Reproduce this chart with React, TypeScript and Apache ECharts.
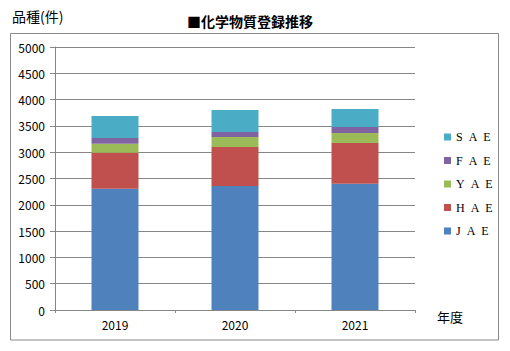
import React, { useEffect, useRef } from "react";
import * as echarts from "echarts";

const years = ["2019", "2020", "2021"];
const seriesNames = ["JAE", "HAE", "YAE", "FAE", "SAE"];
const JAE = [2306, 2357, 2401];
const HAE = [685, 742, 774];
const YAE = [171, 190, 190];
const FAE = [108, 95, 114];
const SAE = [418, 418, 342];
const colors = ["#4F81BD", "#C0504D", "#9BBB59", "#8064A2", "#4BACC6"];
const legendOrder = ["SAE", "FAE", "YAE", "HAE", "JAE"];
const titleText = "■化学物質登録推移";
const yAxisName = "品種(件)";
const xAxisName = "年度";

export default function App() {
  const ref = useRef<HTMLDivElement>(null);
  useEffect(() => {
    if (!ref.current) return;
    const chart = echarts.init(ref.current, undefined, { renderer: "svg" });
    const values = [JAE, HAE, YAE, FAE, SAE];
    const jp = "'Noto Sans CJK JP', sans-serif";
    chart.setOption({
      animation: false,
      backgroundColor: "#fff",
      color: colors,
      graphic: [
        {
          type: "rect",
          shape: { x: 10.5, y: 33.5, width: 488, height: 306.5 },
          style: { fill: "none", stroke: "#8a8a8a", lineWidth: 1 },
          silent: true,
        },
        {
          type: "text",
          x: 250,
          y: 21,
          style: {
            text: titleText,
            fontFamily: jp,
            fontSize: 14,
            fontWeight: "bold",
            fill: "#000",
            align: "center",
            verticalAlign: "middle",
          },
        },
        {
          type: "text",
          x: 12,
          y: 16,
          style: {
            text: yAxisName,
            fontFamily: jp,
            fontSize: 14,
            fill: "#000",
            align: "left",
            verticalAlign: "middle",
          },
        },
        {
          type: "text",
          x: 437,
          y: 316,
          style: {
            text: xAxisName,
            fontFamily: jp,
            fontSize: 13,
            fill: "#000",
            align: "left",
            verticalAlign: "middle",
          },
        },
      ],
      legend: {
        orient: "vertical",
        left: 439,
        top: 126,
        icon: "rect",
        itemWidth: 7,
        itemHeight: 7,
        itemGap: 11.5,
        data: legendOrder,
        formatter: (n: string) => n.split("").join("\u2002"),
        textStyle: {
          fontFamily: "'Liberation Serif', 'DejaVu Serif', serif",
          fontSize: 12,
          lineHeight: 12,
          color: "#000",
        },
      },
      grid: { left: 55, right: 95, top: 47, bottom: 41, containLabel: false },
      xAxis: {
        type: "category",
        data: years,
        boundaryGap: true,
        axisLine: { lineStyle: { color: "#868686" } },
        axisTick: { show: true, alignWithLabel: false, length: 3, lineStyle: { color: "#868686" } },
        axisLabel: { color: "#000", fontFamily: jp, fontSize: 12, margin: 8 },
      },
      yAxis: {
        type: "value",
        min: 0,
        max: 5000,
        interval: 500,
        axisLine: { show: true, lineStyle: { color: "#868686" } },
        axisTick: { show: true, length: 5, lineStyle: { color: "#868686" } },
        axisLabel: {
          color: "#000",
          fontFamily: jp,
          fontSize: 12,
          margin: 10,
          formatter: (v: number) => String(v),
        },
        splitLine: { lineStyle: { color: "#868686" } },
      },
      series: seriesNames.map((name, i) => ({
        name,
        type: "bar",
        stack: "total",
        barWidth: 47,
        data: values[i],
        itemStyle: { color: colors[i] },
      })),
    });
    return () => chart.dispose();
  }, []);
  return <div ref={ref} style={{ width: 510, height: 351, position: "absolute", left: 0, top: 0 }} />;
}
